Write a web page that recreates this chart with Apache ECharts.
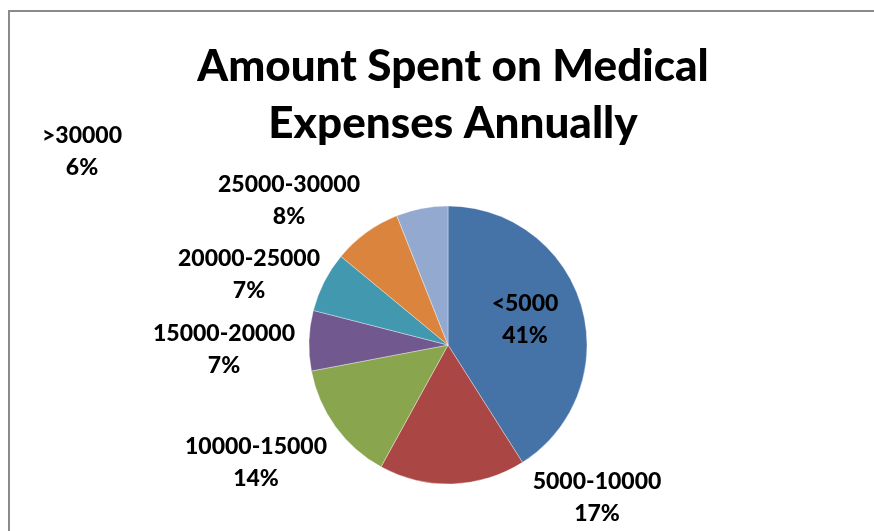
<!DOCTYPE html>
<html>
<head>
<meta charset="utf-8">
<script src="https://cdn.jsdelivr.net/npm/echarts@6/dist/echarts.min.js"></script>
<style>
  html, body { margin: 0; padding: 0; background: #fff; overflow: hidden; }
  #wrap { position: relative; width: 874px; height: 531px; overflow: hidden; }
  #frame {
    position: absolute; left: 8px; top: 10px; width: 900px; height: 600px;
    border-left: 2px solid #8a8a8a; border-top: 2px solid #8a8a8a;
    pointer-events: none;
  }
  #chart { position: absolute; left: 0; top: 0; width: 874px; height: 531px; }
</style>
</head>
<body>
<div id="wrap">
  <div id="chart"></div>
  <div id="frame"></div>
</div>
<script>
// Annual medical spending brackets and their share of respondents (%)
const categories = ['<5000', '5000-10000', '10000-15000', '15000-20000', '20000-25000', '25000-30000', '>30000'];
const shares = [41, 17, 14, 7, 7, 8, 6];
const sliceColors = ['#4572A7', '#AA4643', '#89A54E', '#71588F', '#4198AF', '#DB843D', '#93A9CF'];

// Where each two-line label block is centred on the page
const labelCentres = [
  [525, 320], [597, 498], [256, 463], [224, 350], [249, 275], [289, 201], [82, 152]
];

const chart = echarts.init(document.getElementById('chart'), null, { renderer: 'canvas' });

chart.setOption({
  animation: false,
  backgroundColor: '#ffffff',
  title: {
    text: 'Amount Spent on Medical\nExpenses Annually',
    left: 448,
    top: 33,
    textAlign: 'center',
    textStyle: {
      fontFamily: 'Lato',
      fontWeight: 900,
      fontSize: 44,
      lineHeight: 57,
      color: '#000'
    }
  },
  series: [{
    type: 'pie',
    center: [448, 345],
    radius: 139,
    startAngle: 90,
    clockwise: true,
    percentPrecision: 0,
    data: categories.map((name, i) => ({
      name,
      value: shares[i],
      itemStyle: { color: sliceColors[i] }
    })),
    itemStyle: { borderColor: 'rgba(255,255,255,0.6)', borderWidth: 0.6 },
    label: {
      show: true,
      formatter: '{b}\n{d}%',
      fontFamily: 'Lato',
      fontWeight: 900,
      fontSize: 23,
      lineHeight: 32,
      color: '#000',
      align: 'center'
    },
    labelLine: { show: false },
    labelLayout: (params) => {
      const c = labelCentres[params.dataIndex];
      return { x: c[0], y: c[1], align: 'center', verticalAlign: 'middle' };
    },
    emphasis: { disabled: true }
  }]
});
</script>
</body>
</html>
